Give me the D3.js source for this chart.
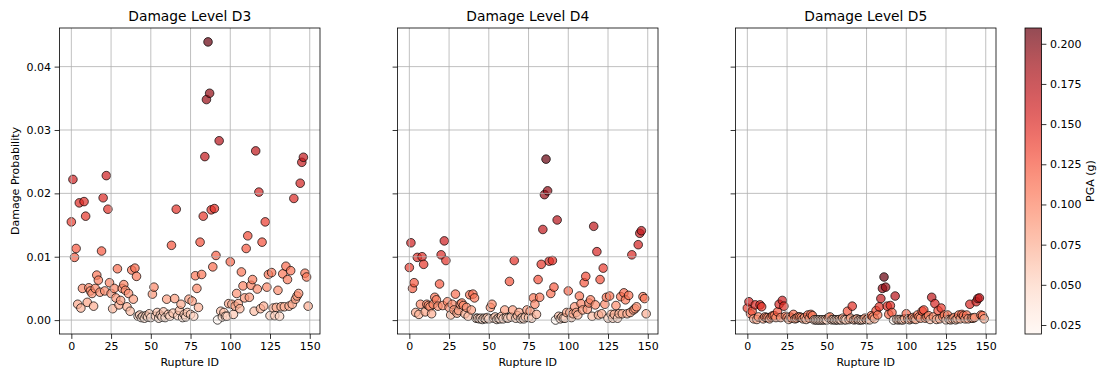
<!DOCTYPE html>
<html>
<head>
<meta charset="utf-8">
<script src="https://cdn.jsdelivr.net/npm/d3@7"></script>
<style>
  body { margin: 0; background: #fff; }
  text { font-family: "DejaVu Sans", sans-serif; fill: #000; }
</style>
</head>
<body>
<svg id="chart" width="1100" height="372"></svg>
<script>
// Peak ground acceleration (g) for each rupture scenario, indexed by rupture ID
const pga = [
  0.140,0.160,0.120,0.125,0.078,0.150,0.072,0.096,0.150,0.143,
  0.080,0.097,0.094,0.091,0.075,0.096,0.107,0.103,0.092,0.124,
  0.152,0.094,0.161,0.147,0.101,0.091,0.071,0.096,0.086,0.112,
  0.077,0.083,0.096,0.100,0.094,0.074,0.091,0.065,0.110,0.084,
  0.112,0.106,0.050,0.055,0.044,0.050,0.041,0.053,0.047,0.060,
  0.044,0.090,0.097,0.050,0.061,0.041,0.055,0.047,0.063,0.044,
  0.084,0.058,0.050,0.127,0.060,0.085,0.147,0.053,0.067,0.078,
  0.044,0.058,0.047,0.061,0.084,0.058,0.082,0.050,0.107,0.096,
  0.073,0.129,0.108,0.143,0.169,0.190,0.2098,0.193,0.147,0.113,
  0.147,0.121,0.0194,0.175,0.065,0.047,0.061,0.050,0.050,0.079,
  0.117,0.078,0.058,0.075,0.091,0.079,0.071,0.109,0.099,0.086,
  0.125,0.132,0.087,0.099,0.104,0.065,0.171,0.095,0.154,0.071,
  0.129,0.075,0.140,0.097,0.108,0.053,0.109,0.072,0.053,0.073,
  0.094,0.050,0.074,0.108,0.074,0.114,0.104,0.075,0.110,0.078,
  0.152,0.084,0.088,0.091,0.158,0.166,0.168,0.109,0.106,0.075
];

// Exceedance probability, damage level D3
const probD3 = [
  0.0155,0.0222,0.0099,0.0113,0.0025,0.0185,0.0019,0.0050,0.0187,0.0164,
  0.0028,0.0051,0.0046,0.0042,0.0022,0.0050,0.0071,0.0063,0.0044,0.0109,
  0.0193,0.0046,0.0228,0.0175,0.0059,0.0042,0.0018,0.0050,0.0035,0.0081,
  0.0024,0.0031,0.0050,0.0056,0.0047,0.0021,0.0042,0.0014,0.0079,0.0033,
  0.0082,0.0069,0.0006,0.0008,0.0004,0.0006,0.0003,0.0007,0.0005,0.0010,
  0.0004,0.0041,0.0052,0.0006,0.0012,0.0003,0.0008,0.0005,0.0013,0.0004,
  0.0033,0.0009,0.0006,0.0118,0.0011,0.0034,0.0175,0.0007,0.0015,0.0025,
  0.0004,0.0009,0.0005,0.0012,0.0033,0.0009,0.0030,0.0006,0.0070,0.0050,
  0.0020,0.0123,0.0072,0.0164,0.0258,0.0348,0.0439,0.0358,0.0174,0.0084,
  0.0176,0.0102,0.00003,0.0283,0.0014,0.0005,0.0012,0.0006,0.0006,0.0026,
  0.0092,0.0025,0.0009,0.0022,0.0042,0.0026,0.0018,0.0076,0.0054,0.0035,
  0.0113,0.0133,0.0036,0.0055,0.0064,0.0014,0.0267,0.0049,0.0202,0.0018,
  0.0123,0.0022,0.0155,0.0052,0.0072,0.0007,0.0075,0.0019,0.0007,0.0020,
  0.0047,0.0006,0.0021,0.0073,0.0021,0.0085,0.0064,0.0022,0.0078,0.0025,
  0.0192,0.0033,0.0038,0.0042,0.0216,0.0249,0.0257,0.0074,0.0068,0.0022
];

// Exceedance probability, damage level D4
const probD4 = [
  0.0083,0.0122,0.0050,0.0059,0.0012,0.0099,0.0009,0.0025,0.0100,0.0088,
  0.0013,0.0025,0.0023,0.0021,0.0010,0.0025,0.0036,0.0032,0.0022,0.0057,
  0.0103,0.0023,0.0125,0.0094,0.0029,0.0020,0.0008,0.0025,0.0016,0.0041,
  0.0011,0.0015,0.0025,0.0027,0.0023,0.0010,0.0020,0.0006,0.0040,0.0016,
  0.0041,0.0035,0.0003,0.0003,0.0002,0.0003,0.0001,0.0003,0.0002,0.0004,
  0.0002,0.0020,0.0025,0.0003,0.0005,0.0001,0.0003,0.0002,0.0006,0.0002,
  0.0016,0.0004,0.0003,0.0061,0.0005,0.0016,0.0094,0.0003,0.0007,0.0012,
  0.0002,0.0004,0.0002,0.0005,0.0016,0.0004,0.0014,0.0003,0.0035,0.0025,
  0.0009,0.0064,0.0036,0.0088,0.0143,0.0198,0.0254,0.0204,0.0093,0.0042,
  0.0094,0.0052,0.00001,0.0158,0.0006,0.0002,0.0005,0.0003,0.0003,0.0012,
  0.0046,0.0012,0.0004,0.0010,0.0021,0.0012,0.0008,0.0038,0.0026,0.0016,
  0.0059,0.0069,0.0017,0.0027,0.0032,0.0006,0.0148,0.0024,0.0108,0.0008,
  0.0064,0.0010,0.0082,0.0025,0.0036,0.0003,0.0038,0.0009,0.0003,0.0009,
  0.0023,0.0003,0.0010,0.0037,0.0010,0.0043,0.0032,0.0010,0.0039,0.0012,
  0.0103,0.0016,0.0018,0.0021,0.0119,0.0137,0.0141,0.0037,0.0034,0.0010
];

// Exceedance probability, damage level D5
const probD5 = [
  0.0019,0.0029,0.0010,0.0014,0.0002,0.0024,0.0001,0.0005,0.0024,0.0021,
  0.0002,0.0005,0.0004,0.0004,0.0002,0.0005,0.0007,0.0007,0.0004,0.0013,
  0.0025,0.0004,0.0031,0.0022,0.0006,0.0004,0.0001,0.0005,0.0003,0.0009,
  0.0002,0.0003,0.0005,0.0005,0.0004,0.0002,0.0004,0.0001,0.0008,0.0003,
  0.0009,0.0007,0.00004,0.00005,0.00002,0.00004,0.00002,0.00004,0.00003,0.00007,
  0.00002,0.0004,0.0005,0.00004,0.0001,0.00002,0.00005,0.00003,0.0001,0.00002,
  0.0003,0.00005,0.00004,0.0014,0.00008,0.0003,0.0022,0.00004,0.0001,0.0002,
  0.00002,0.00005,0.00003,0.0001,0.0003,0.00005,0.0002,0.00004,0.0007,0.0005,
  0.0002,0.0015,0.0008,0.0021,0.0034,0.0050,0.0068,0.0052,0.0022,0.0009,
  0.0023,0.0012,0.000001,0.0038,0.0001,0.00003,0.0001,0.00004,0.00004,0.0002,
  0.0010,0.0002,0.00005,0.0002,0.0004,0.0002,0.0001,0.0008,0.0005,0.0003,
  0.0014,0.0016,0.0003,0.0005,0.0007,0.0001,0.0036,0.0005,0.0026,0.0001,
  0.0015,0.0002,0.0019,0.0005,0.0008,0.00004,0.0008,0.0001,0.00004,0.0002,
  0.0004,0.00004,0.0002,0.0008,0.0002,0.0009,0.0007,0.0002,0.0008,0.0002,
  0.0025,0.0003,0.0003,0.0004,0.0029,0.0034,0.0035,0.0008,0.0007,0.0002
];

const panelTitles = ["Damage Level D3", "Damage Level D4", "Damage Level D5"];
const xTickValues = [0, 25, 50, 75, 100, 125, 150];
const yTickValues = [0.00, 0.01, 0.02, 0.03, 0.04];
const colorbarTickValues = [0.025, 0.050, 0.075, 0.100, 0.125, 0.150, 0.175, 0.200];
const xLabel = "Rupture ID";
const yLabel = "Damage Probability";
const colorbarLabel = "PGA (g)";

// ---- layout ----
const svg = d3.select("#chart");
const panelLefts = [59.5, 397.5, 735.5];
const panelWidth = 260.5;
const plotTop = 28, plotBottom = 334;
const tickLen = 4.9, tickPad = 3.5;
const fontSize = 11;
const gridColor = "#b0b0b0";
const alpha = 0.7;

const series = [probD3, probD4, probD5];
const ruptureIds = pga.map((_, i) => i);

// 5% data margins on both axes, y shared across panels
function padded(ext) {
  const r = ext[1] - ext[0];
  return [ext[0] - 0.05 * r, ext[1] + 0.05 * r];
}
const xDomain = padded(d3.extent(ruptureIds));
const yDomain = padded(d3.extent(series.flat()));
const y = d3.scaleLinear().domain(yDomain).range([plotBottom, plotTop]);

const pgaExtent = d3.extent(pga);
const color = d3.scaleSequential(d3.interpolateReds).domain(pgaExtent);

series.forEach((vals, k) => {
  const left = panelLefts[k];
  const x = d3.scaleLinear().domain(xDomain).range([left, left + panelWidth]);
  const g = svg.append("g");

  const clipId = "clip" + k;
  svg.append("clipPath").attr("id", clipId)
    .append("rect").attr("x", left).attr("y", plotTop)
    .attr("width", panelWidth).attr("height", plotBottom - plotTop);

  // scatter points
  g.append("g").attr("clip-path", `url(#${clipId})`)
    .selectAll("circle")
    .data(vals.map((v, i) => ({ id: ruptureIds[i], v, pga: pga[i] })))
    .join("circle")
    .attr("cx", d => x(d.id))
    .attr("cy", d => y(d.v))
    .attr("r", 4.3)
    .attr("fill", d => color(d.pga))
    .attr("fill-opacity", alpha)
    .attr("stroke", "#000")
    .attr("stroke-opacity", alpha)
    .attr("stroke-width", 1);

  // grid lines, drawn over the points
  const grid = g.append("g").attr("stroke", gridColor).attr("stroke-width", 0.8);
  xTickValues.forEach(t => {
    grid.append("line").attr("x1", x(t)).attr("x2", x(t)).attr("y1", plotTop).attr("y2", plotBottom);
  });
  yTickValues.forEach(t => {
    grid.append("line").attr("x1", left).attr("x2", left + panelWidth).attr("y1", y(t)).attr("y2", y(t));
  });

  // x axis
  const xAxis = d3.axisBottom(x).tickValues(xTickValues).tickFormat(d3.format("d"))
    .tickSize(tickLen).tickPadding(tickPad).tickSizeOuter(0);
  const xa = g.append("g").attr("transform", `translate(0,${plotBottom})`).call(xAxis);
  xa.select(".domain").remove();
  xa.selectAll("line").attr("stroke", "#000").attr("stroke-width", 0.8);
  xa.selectAll("text").attr("font-size", fontSize).attr("font-family", "DejaVu Sans");

  // y axis (labels only on the first panel)
  const yAxis = d3.axisLeft(y).tickValues(yTickValues)
    .tickFormat(k === 0 ? d3.format(".2f") : () => "")
    .tickSize(tickLen).tickPadding(tickPad).tickSizeOuter(0);
  const ya = g.append("g").attr("transform", `translate(${left},0)`).call(yAxis);
  ya.select(".domain").remove();
  ya.selectAll("line").attr("stroke", "#000").attr("stroke-width", 0.8);
  ya.selectAll("text").attr("font-size", fontSize).attr("font-family", "DejaVu Sans");

  // frame
  g.append("rect").attr("x", left).attr("y", plotTop)
    .attr("width", panelWidth).attr("height", plotBottom - plotTop)
    .attr("fill", "none").attr("stroke", "#000").attr("stroke-width", 0.8);

  // title and x label
  g.append("text").attr("x", left + panelWidth / 2).attr("y", 21)
    .attr("text-anchor", "middle").attr("font-size", 13.8).text(panelTitles[k]);
  g.append("text").attr("x", left + panelWidth / 2).attr("y", 366)
    .attr("text-anchor", "middle").attr("font-size", fontSize).text(xLabel);
});

// y label
svg.append("text")
  .attr("transform", `translate(18.5,${(plotTop + plotBottom) / 2}) rotate(-90)`)
  .attr("text-anchor", "middle").attr("font-size", fontSize).text(yLabel);

// ---- colorbar ----
const cbLeft = 1025, cbWidth = 16.5;
const cb = d3.scaleLinear().domain(pgaExtent).range([plotBottom, plotTop]);
const defs = svg.append("defs");
const grad = defs.append("linearGradient").attr("id", "cbGrad")
  .attr("x1", 0).attr("y1", 1).attr("x2", 0).attr("y2", 0);
d3.range(0, 1.0001, 0.02).forEach(t => {
  grad.append("stop").attr("offset", t).attr("stop-color", d3.interpolateReds(t));
});
svg.append("rect").attr("x", cbLeft).attr("y", plotTop)
  .attr("width", cbWidth).attr("height", plotBottom - plotTop)
  .attr("fill", "url(#cbGrad)").attr("fill-opacity", alpha);
svg.append("rect").attr("x", cbLeft).attr("y", plotTop)
  .attr("width", cbWidth).attr("height", plotBottom - plotTop)
  .attr("fill", "none").attr("stroke", "#000").attr("stroke-width", 0.8);

const cbAxis = d3.axisRight(cb).tickValues(colorbarTickValues).tickFormat(d3.format(".3f"))
  .tickSize(tickLen).tickPadding(tickPad).tickSizeOuter(0);
const cba = svg.append("g").attr("transform", `translate(${cbLeft + cbWidth},0)`).call(cbAxis);
cba.select(".domain").remove();
cba.selectAll("line").attr("stroke", "#000").attr("stroke-width", 0.8);
cba.selectAll("text").attr("font-size", fontSize).attr("font-family", "DejaVu Sans");

svg.append("text")
  .attr("transform", `translate(1094,${(plotTop + plotBottom) / 2}) rotate(-90)`)
  .attr("text-anchor", "middle").attr("font-size", fontSize).text(colorbarLabel);
</script>
</body>
</html>
